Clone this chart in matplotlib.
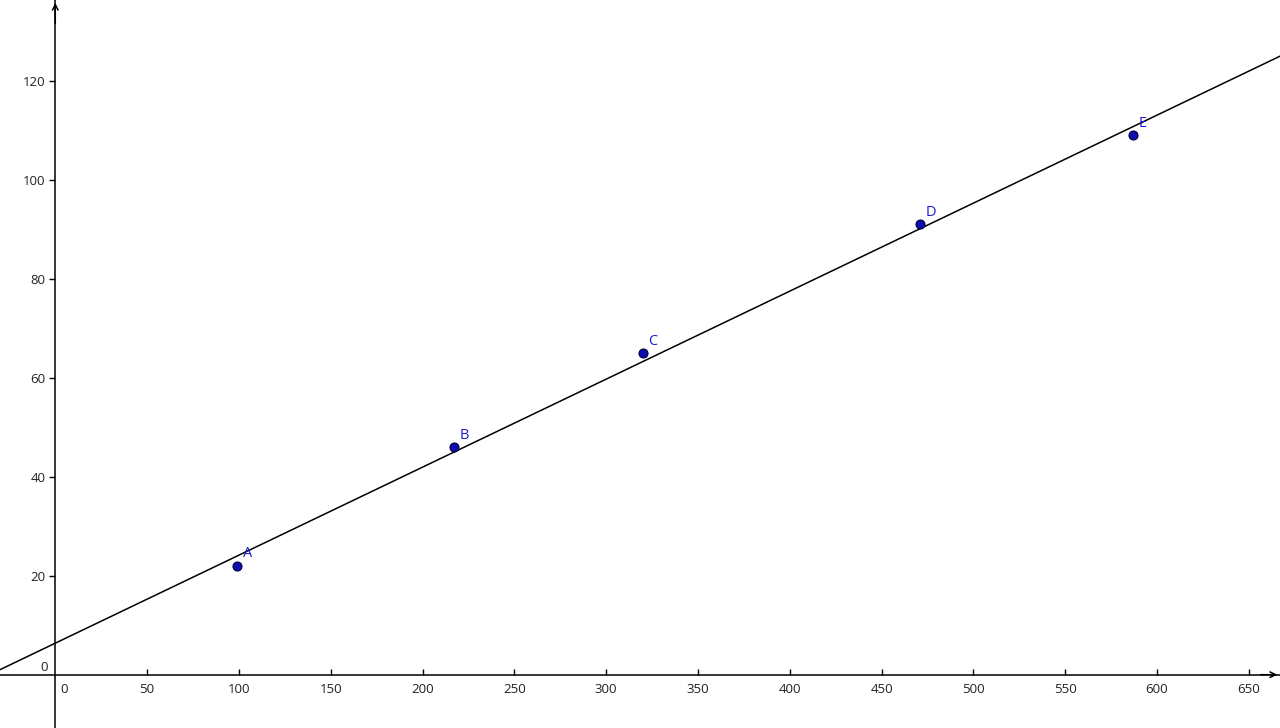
import matplotlib.pyplot as plt
import numpy as np

plt.rcParams['font.family'] = ['Open Sans', 'DejaVu Sans']

# data points
names = ['A', 'B', 'C', 'D', 'E']
x_vals = [99, 217, 320, 471, 587]
y_vals = [22, 46, 65, 91, 109]

x_ticks = [50, 100, 150, 200, 250, 300, 350, 400, 450, 500, 550, 600, 650]
y_ticks = [20, 40, 60, 80, 100, 120]

fig = plt.figure(figsize=(12.8, 7.28), dpi=100)
ax = fig.add_axes([0, 0, 1, 1])
ax.set_xlim(-30.1, 667.0)
ax.set_ylim(-10.77, 136.3)

# axes through the origin
for side in ['top', 'right']:
    ax.spines[side].set_visible(False)
ax.spines['left'].set_position(('data', 0))
ax.spines['bottom'].set_position(('data', 0))
ax.spines['left'].set_linewidth(1.1)
ax.spines['bottom'].set_linewidth(1.1)

# arrow heads
ax.annotate('', xy=(667.0, 0), xytext=(655, 0),
            arrowprops=dict(arrowstyle='->', lw=1.1, color='black', mutation_scale=10))
ax.annotate('', xy=(0, 136.3), xytext=(0, 131),
            arrowprops=dict(arrowstyle='->', lw=1.1, color='black', mutation_scale=10))

ax.set_xticks(x_ticks)
ax.set_yticks(y_ticks)
ax.tick_params(axis='x', direction='in', length=4, width=1, labelsize=9.5, pad=6, colors='black')
ax.tick_params(axis='y', direction='out', length=4, width=1, labelsize=9.5, pad=3, colors='black')
for lab in ax.get_xticklabels() + ax.get_yticklabels():
    lab.set_color('#222222')
ax.text(3, -1.6, '0', fontsize=9.5, ha='left', va='top', color='#222222')
ax.text(-4, 0.1, '0', fontsize=9.5, ha='right', va='bottom', color='#222222')

# regression line
slope, intercept = np.polyfit(x_vals, y_vals, 1)
xs = np.array([-40, 700])
ax.plot(xs, slope * xs + intercept, color='black', lw=1.1)

# points with labels
ax.scatter(x_vals, y_vals, s=42, color='#0c0cb0', edgecolors='#00003a', linewidths=0.8, zorder=3)
for n, xv, yv in zip(names, x_vals, y_vals):
    ax.annotate(n, (xv, yv), xytext=(4, 6), textcoords='offset points',
                color='#1a1ad0', fontsize=10.5)

fig.savefig('out.png', dpi=100)
